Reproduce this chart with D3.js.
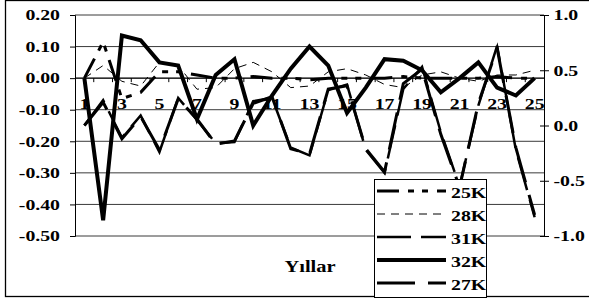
<!DOCTYPE html>
<html>
<head>
<meta charset="utf-8">
<script src="https://cdn.jsdelivr.net/npm/d3@7"></script>
<style>
  body { margin: 0; background: #fff; }
  text { font-family: "Liberation Serif", "Times New Roman", serif; font-weight: bold; fill: #000; }
</style>
</head>
<body>
<svg id="chart" width="589" height="299"></svg>
<script>
// Categories (years)
const years = [1, 2, 3, 4, 5, 6, 7, 8, 9, 10, 11, 12, 13, 14, 15, 16, 17, 18, 19, 20, 21, 22, 23, 24, 25];
const yearLabels = [1, 3, 5, 7, 9, 11, 13, 15, 17, 19, 21, 23, 25];

// Tick labels
const leftTicks = [0.2, 0.1, 0, -0.1, -0.2, -0.3, -0.4, -0.5];
const rightTicks = [1, 0.5, 0, -0.5, -1];

// Series on the left axis
const s25K = [0.00, 0.115, -0.065, -0.045, 0.02, 0.02, 0.01, 0.00, 0.00, 0.005, 0.00, 0.00, -0.005,
  0.00, 0.00, 0.00, 0.00, 0.005, 0.00, 0.00, 0.00, 0.00, 0.005, 0.00, 0.00];
const s28K = [0.00, 0.04, -0.01, -0.025, 0.05, 0.04, -0.035, -0.03, 0.03, 0.05, 0.02, -0.03, -0.025,
  0.02, 0.03, 0.01, -0.02, -0.03, 0.01, 0.02, 0.00, -0.01, 0.01, 0.01, 0.025];
const s32K = [0.00, -0.45, 0.135, 0.12, 0.05, 0.04, -0.13, 0.01, 0.06, -0.15, -0.055, 0.03, 0.10,
  0.04, -0.11, -0.03, 0.06, 0.055, 0.025, -0.045, 0.00, 0.05, -0.03, -0.055, 0.00];

// Series on the right axis
const s31K = [0.00, 0.23, -0.11, 0.09, -0.24, 0.25, 0.05, -0.16, -0.15, 0.22, 0.25, -0.20, -0.27,
  0.32, 0.37, -0.22, -0.43, 0.33, 0.53, -0.06, -0.55, 0.18, 0.72, -0.22, -0.83];
const s27K = [0.00, 0.21, -0.12, 0.08, -0.22, 0.24, 0.06, -0.17, -0.14, 0.20, 0.26, -0.21, -0.26,
  0.33, 0.36, -0.21, -0.42, 0.38, 0.51, -0.08, -0.56, 0.20, 0.70, -0.20, -0.81];

const legendNames = ["25K", "28K", "31K", "32K", "27K"];

// Line styles for each series
const styles = {
  "25K": { width: 3, dash: "22 9 6 8 6 9" },
  "28K": { width: 1, dash: "8 6" },
  "31K": { width: 2.5, dash: "34 10" },
  "32K": { width: 4, dash: null },
  "27K": { width: 3, dash: "38 13" }
};

const SX = 1.32; // horizontal stretch of the text
const svg = d3.select("#chart");

// Outer frame
svg.append("rect")
  .attr("x", 5.5).attr("y", 0.5)
  .attr("width", 600).attr("height", 296)
  .attr("fill", "none").attr("stroke", "#000").attr("stroke-width", 1.3);

// Plot area
const plot = { left: 75, right: 544, top: 15, bottom: 236 };

const x = d3.scaleBand().domain(years).range([plot.left, plot.right]).padding(0);
const cx = (d) => x(d) + x.bandwidth() / 2;
const yL = d3.scaleLinear().domain([-0.5, 0.2]).range([plot.bottom, plot.top]);
const yR = d3.scaleLinear().domain([-1, 1]).range([plot.bottom, plot.top]);

// Gridlines
svg.append("g")
  .selectAll("line")
  .data(leftTicks)
  .join("line")
  .attr("x1", plot.left).attr("x2", plot.right)
  .attr("y1", (d) => yL(d)).attr("y2", (d) => yL(d))
  .attr("stroke", "#3a3a3a").attr("stroke-width", 1);

// Left axis
const axisL = svg.append("g")
  .attr("transform", `translate(${plot.left}, 0)`)
  .call(d3.axisLeft(yL).tickValues(leftTicks).tickFormat((d) => d.toFixed(2)).tickSize(5).tickPadding(14));
axisL.select(".domain").attr("stroke", "#000");
axisL.selectAll("text")
  .attr("font-size", 15)
  .attr("x", -15 / SX)
  .attr("transform", `scale(${SX},1)`);

// Right axis
const axisR = svg.append("g")
  .attr("transform", `translate(${plot.right}, 0)`)
  .call(d3.axisRight(yR).tickValues(rightTicks).tickFormat((d) => d.toFixed(1)).tickSize(5));
axisR.select(".domain").attr("stroke", "#000");
axisR.selectAll(".tick line").attr("x1", -4).attr("x2", 5);
axisR.selectAll("text")
  .attr("font-size", 15)
  .attr("text-anchor", "start")
  .attr("x", 9.5 / SX)
  .attr("transform", `scale(${SX},1)`);

// Category axis crossing at zero
const zeroY = yL(0);
svg.append("line")
  .attr("x1", plot.left).attr("x2", plot.right)
  .attr("y1", zeroY).attr("y2", zeroY)
  .attr("stroke", "#000");
svg.append("g")
  .selectAll("line")
  .data(years.slice(1))
  .join("line")
  .attr("x1", (d) => x(d)).attr("x2", (d) => x(d))
  .attr("y1", zeroY).attr("y2", zeroY + 4)
  .attr("stroke", "#000");

const axisX = svg.append("g")
  .attr("transform", `translate(0, ${zeroY})`)
  .call(d3.axisBottom(x).tickValues(yearLabels).tickSize(0).tickPadding(20));
axisX.select(".domain").remove();
axisX.selectAll("text")
  .attr("font-size", 15)
  .attr("transform", `scale(${SX},1)`);

// Axis title
svg.append("text")
  .text("Yıllar")
  .attr("font-size", 16)
  .attr("text-anchor", "middle")
  .attr("transform", `translate(310, 272) scale(1.28,1)`);

// Lines
const series = [
  { name: "25K", values: s25K, y: yL },
  { name: "28K", values: s28K, y: yL },
  { name: "32K", values: s32K, y: yL },
  { name: "31K", values: s31K, y: yR },
  { name: "27K", values: s27K, y: yR }
];

series.forEach((s) => {
  const line = d3.line().x((d, i) => cx(years[i])).y((d) => s.y(d));
  svg.append("path")
    .datum(s.values)
    .attr("d", line)
    .attr("fill", "none")
    .attr("stroke", "#000")
    .attr("stroke-width", styles[s.name].width)
    .attr("stroke-dasharray", styles[s.name].dash)
    .attr("stroke-linejoin", "miter");
});

// Legend
const legend = svg.append("g");
legend.append("rect")
  .attr("x", 374.5).attr("y", 179.5)
  .attr("width", 112).attr("height", 118)
  .attr("fill", "#fff").attr("stroke", "#000").attr("stroke-width", 1);

const rows = legend.selectAll("g.row")
  .data(legendNames)
  .join("g")
  .attr("class", "row")
  .attr("transform", (d, i) => `translate(0, ${191 + i * 23})`);
rows.append("line")
  .attr("x1", 377).attr("x2", 446)
  .attr("y1", 0).attr("y2", 0)
  .attr("stroke", "#000")
  .attr("stroke-width", (d) => styles[d].width)
  .attr("stroke-dasharray", (d) => styles[d].dash);
rows.append("text")
  .text((d) => d)
  .attr("font-size", 15)
  .attr("transform", `translate(451, 7) scale(${SX},1)`);
</script>
</body>
</html>
